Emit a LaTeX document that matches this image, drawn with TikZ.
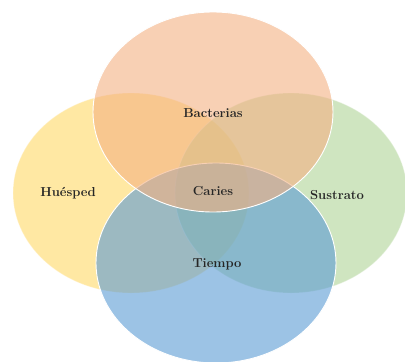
\documentclass[tikz,border=0pt]{standalone}
\usetikzlibrary{shapes.geometric}
\definecolor{cOrange}{HTML}{F4B183}
\definecolor{cYellow}{HTML}{FFD966}
\definecolor{cGreen}{HTML}{A9D18E}
\definecolor{cBlue}{HTML}{5B9BD5}
\tikzset{
  venn/.style={ellipse, inner sep=0pt, outer sep=0pt, draw=white, line width=0.9pt},
  lbl/.style={font=\bfseries\fontsize{13}{15}\selectfont, text=black!85}
}
\begin{document}
\begin{tikzpicture}[x=1pt,y=-1pt]
\useasboundingbox (0,0) rectangle (405,362);
\fill[white] (0,0) rectangle (405,362);
\begin{scope}
\clip (0,0) rectangle (405,362);
\node[venn, fill=cYellow, fill opacity=0.6, draw opacity=0.3, minimum width=236pt, minimum height=200pt] (host) at (131,193) {};
\node[venn, fill=cGreen, fill opacity=0.55, draw opacity=0.3, minimum width=232pt, minimum height=200pt] (subs) at (291,193) {};
\node[venn, fill=cBlue, fill opacity=0.6, minimum width=240pt, minimum height=200pt] (time) at (216,263) {};
\node[venn, fill=cOrange, fill opacity=0.6, minimum width=240pt, minimum height=200pt] (bact) at (213,112) {};
\end{scope}
\node[lbl] (lb) at (213,113) {Bacterias};
\node[lbl] (lc) at (213,191) {Caries};
\node[lbl] (lh) at (68,193) {Huésped};
\node[lbl] (ls) at (337,195) {Sustrato};
\node[lbl] (lt) at (217,264) {Tiempo};
\end{tikzpicture}
\end{document}
